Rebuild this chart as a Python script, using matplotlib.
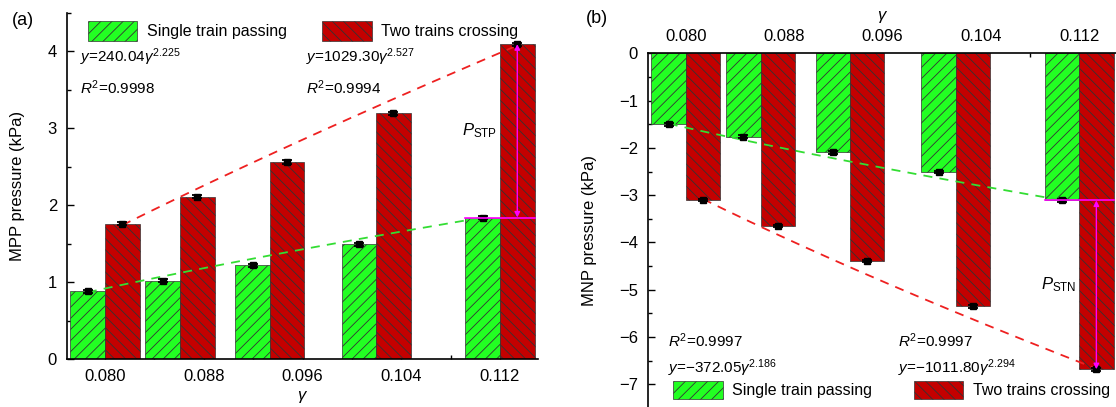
import numpy as np
import matplotlib
matplotlib.use('Agg')
import matplotlib.pyplot as plt
from matplotlib.ticker import MultipleLocator

gamma = [0.080, 0.088, 0.096, 0.104, 0.112]
gamma_labels = ['0.080', '0.088', '0.096', '0.104', '0.112']
mpp_single = [0.88, 1.02, 1.22, 1.49, 1.84]
mpp_cross = [1.76, 2.11, 2.56, 3.19, 4.09]
mnp_single = [-1.50, -1.76, -2.09, -2.51, -3.11]
mnp_cross = [-3.10, -3.65, -4.39, -5.35, -6.68]
mpp_err = [0.02, 0.02, 0.02, 0.02, 0.02]
mnp_err = [0.03, 0.03, 0.03, 0.03, 0.03]
# power-law fits y = a * gamma^b shown on the chart
fit_mpp_single = (240.04, 2.225, '0.9998')
fit_mpp_cross = (1029.30, 2.527, '0.9994')
fit_mnp_single = (-372.05, 2.186, '0.9997')
fit_mnp_cross = (-1011.80, 2.294, '0.9997')

plt.rcParams.update({
    'font.family': 'Liberation Sans',
    'mathtext.fontset': 'custom',
    'mathtext.rm': 'Liberation Sans',
    'mathtext.it': 'Liberation Sans:italic',
    'hatch.linewidth': 0.6,
    'font.size': 11.5,
})

GREEN = '#22ff22'
RED = '#c40000'
EDGE = '#333333'
W = 0.35


def pos(g):
    # bars sit on a cubic gamma scale, ticks evenly spaced
    g = np.asarray(g, dtype=float)
    g0, g1 = gamma[0] ** 3, gamma[-1] ** 3
    return 4 * (g ** 3 - g0) / (g1 - g0)


def fmt_eq(a, b):
    s = f'{a:.2f}'.replace('-', '\u2212')
    return rf'$y$={s}$\gamma^{{{b}}}$'


def draw(ax, single, cross, err, fit_s, fit_c):
    x = pos(gamma)
    bs = ax.bar(x - W / 2, single, W, color=GREEN, edgecolor=EDGE, lw=0.5,
                hatch='///', label='Single train passing', zorder=2)
    bc = ax.bar(x + W / 2, cross, W, color=RED, edgecolor=EDGE, lw=0.5,
                hatch='\\\\\\', label='Two trains crossing', zorder=2)
    gg = np.linspace(gamma[0], gamma[-1], 200)
    ax.plot(pos(gg) - W / 2, fit_s[0] * gg ** fit_s[1], '--', color='#33dd33',
            lw=1.3, dashes=(5, 4), zorder=3)
    ax.plot(pos(gg) + W / 2, fit_c[0] * gg ** fit_c[1], '--', color='#ee2020',
            lw=1.3, dashes=(5, 4), zorder=3)
    for off, vals in ((-W / 2, single), (W / 2, cross)):
        ax.errorbar(x + off, vals, yerr=err, fmt='s', color='black', ms=5,
                    capsize=3.5, elinewidth=1, capthick=1.3, zorder=4)
    # difference marker on last group
    xl, xr = x[-1] - W, x[-1] + W
    ax.plot([xl, xr], [single[-1], single[-1]], color='magenta', lw=1.2, zorder=5)
    ax.annotate('', xy=(x[-1] + W / 2, cross[-1]), xytext=(x[-1] + W / 2, single[-1]),
                arrowprops=dict(arrowstyle='<|-|>', color='magenta', lw=1,
                                mutation_scale=8, shrinkA=0, shrinkB=0), zorder=5)
    ax.set_xlim(-0.388, 4.385)
    ax.set_xticks(range(5))
    ax.set_xticklabels(gamma_labels, fontsize=12)
    ax.xaxis.set_minor_locator(MultipleLocator(0.5))
    ax.yaxis.set_minor_locator(MultipleLocator(0.5))
    ax.tick_params(which='both', direction='in', width=1, labelsize=12)
    ax.tick_params(which='major', length=5, pad=7)
    ax.tick_params(which='minor', length=3)
    for sp in ax.spines.values():
        sp.set_linewidth(1.2)
    return bs, bc


fig = plt.figure(figsize=(11.16, 4.07), dpi=100)

# (a) maximum positive pressure
ax1 = fig.add_axes([0.0598, 0.1172, 0.4223, 0.852])
bs, bc = draw(ax1, mpp_single, mpp_cross, mpp_err, fit_mpp_single, fit_mpp_cross)
ax1.set_ylim(0, 4.5)
ax1.set_yticks([0, 1, 2, 3, 4])
ax1.spines['top'].set_visible(False)
ax1.spines['right'].set_visible(False)
ax1.set_ylabel('MPP pressure (kPa)', fontsize=12)
ax1.yaxis.set_label_coords(-0.088, 0.5)
ax1.set_xlabel(r'$\gamma$', fontsize=12)
ax1.xaxis.set_label_coords(0.5, -0.085)
ax1.legend(handles=[bs, bc], ncol=2, loc='upper left', bbox_to_anchor=(0.028, 1.0),
           frameon=False, borderpad=0, handlelength=3.1, handleheight=1.6,
           handletextpad=0.6, columnspacing=2.2, fontsize=11.5)
ax1.text(0.028, 0.872, fmt_eq(*fit_mpp_single[:2]), transform=ax1.transAxes,
         va='center', fontsize=11)
ax1.text(0.028, 0.782, rf'$R^2$={fit_mpp_single[2]}', transform=ax1.transAxes,
         va='center', fontsize=11)
ax1.text(0.508, 0.872, fmt_eq(*fit_mpp_cross[:2]), transform=ax1.transAxes,
         va='center', fontsize=11)
ax1.text(0.508, 0.782, rf'$R^2$={fit_mpp_cross[2]}', transform=ax1.transAxes,
         va='center', fontsize=11)
ax1.text(3.97, (mpp_single[-1] + mpp_cross[-1]) / 2, r'$P_{\mathrm{STP}}$',
         ha='right', va='center', fontsize=12)

# (b) maximum negative pressure
ax2 = fig.add_axes([0.5804, -0.0025, 0.4205, 0.8715])
bs, bc = draw(ax2, mnp_single, mnp_cross, mnp_err, fit_mnp_single, fit_mnp_cross)
ax2.set_ylim(-7.5, 0)
ax2.set_yticks(range(-7, 1))
ax2.set_yticklabels(['0' if v == 0 else f'\u2212{-v}' for v in range(-7, 1)])
ax2.xaxis.tick_top()
ax2.xaxis.set_label_position('top')
ax2.spines['bottom'].set_visible(False)
ax2.spines['right'].set_visible(False)
ax2.set_ylabel('MNP pressure (kPa)', fontsize=12)
ax2.yaxis.set_label_coords(-0.108, 0.5)
ax2.set_xlabel(r'$\gamma$', fontsize=12)
ax2.xaxis.set_label_coords(0.5, 1.095)
ax2.legend(handles=[bs, bc], ncol=2, loc='lower left', bbox_to_anchor=(0.037, 0.003),
           frameon=False, borderpad=0, handlelength=3.1, handleheight=1.4,
           handletextpad=0.6, columnspacing=2.6, fontsize=11.5)
ax2.text(0.043, 0.189, rf'$R^2$={fit_mnp_single[2]}', transform=ax2.transAxes,
         va='center', fontsize=11)
ax2.text(0.043, 0.113, fmt_eq(*fit_mnp_single[:2]), transform=ax2.transAxes,
         va='center', fontsize=11)
ax2.text(0.533, 0.189, rf'$R^2$={fit_mnp_cross[2]}', transform=ax2.transAxes,
         va='center', fontsize=11)
ax2.text(0.533, 0.113, fmt_eq(*fit_mnp_cross[:2]), transform=ax2.transAxes,
         va='center', fontsize=11)
ax2.text(3.97, (mnp_single[-1] + mnp_cross[-1]) / 2, r'$P_{\mathrm{STN}}$',
         ha='right', va='center', fontsize=12)

fig.text(0.021, 0.95, '(a)', fontsize=13, ha='center', va='center')
fig.text(0.535, 0.955, '(b)', fontsize=13, ha='center', va='center')

fig.savefig('out.png', dpi=100)
